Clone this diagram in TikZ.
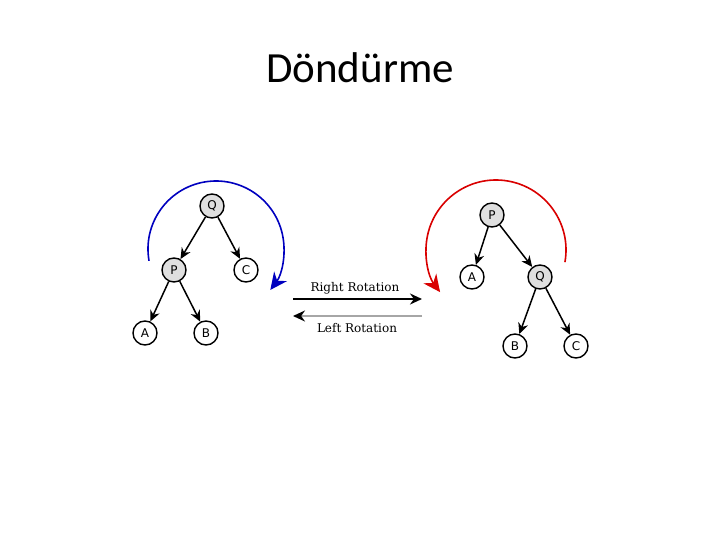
\documentclass[tikz,border=0pt]{standalone}
\usepackage{fontspec}
\setmainfont{Carlito}
\newfontfamily\nodefont{DejaVu Sans}
\newfontfamily\lblfont{DejaVu Serif}
\usetikzlibrary{arrows.meta,calc}
\begin{document}
\begin{tikzpicture}[x=1pt,y=-1pt,
  tnode/.style={circle,draw,line width=1.4pt,minimum size=24pt,inner sep=0pt,font=\nodefont\fontsize{12}{14}\selectfont},
  inner/.style={tnode,fill=gray!25},
  leaf/.style={tnode,fill=white},
  edge/.style={-{Stealth[length=11pt,width=10pt]},line width=1.5pt},
  rot/.style={line width=1.6pt,-{Stealth[length=17pt,width=16pt]}},
  lbl/.style={font=\lblfont\fontsize{12}{14}\selectfont}]
\useasboundingbox (0,0) rectangle (720,540);
\node[font=\fontsize{43}{50}\selectfont] (title) at (360,68) {Döndürme};
% left tree
\node[inner] (lQ) at (212,206) {Q};
\node[inner] (lP) at (174,270) {P};
\node[leaf] (lC) at (246,270) {C};
\node[leaf] (lA) at (145,333) {A};
\node[leaf] (lB) at (206,333) {B};
\draw[edge] (lQ) -- (lP);
\draw[edge] (lQ) -- (lC);
\draw[edge] (lP) -- (lA);
\draw[edge] (lP) -- (lB);
% right tree
\node[inner] (rP) at (492,215) {P};
\node[leaf] (rA) at (472,277) {A};
\node[inner] (rQ) at (540,277) {Q};
\node[leaf] (rB) at (515,346) {B};
\node[leaf] (rC) at (576,346) {C};
\draw[edge] (rP) -- (rA);
\draw[edge] (rP) -- (rQ);
\draw[edge] (rQ) -- (rB);
\draw[edge] (rQ) -- (rC);
% rotation arcs
\coordinate (bc) at (216,249);
\draw[rot,blue!75!black] ($(bc)+(-190:68)$) arc[start angle=-190,end angle=37,radius=68];
\coordinate (rc) at (496,250);
\draw[rot,red!85!black] ($(rc)+(10:70)$) arc[start angle=10,end angle=-217,radius=70];
% middle arrows
\coordinate (r1) at (293,299);
\coordinate (r2) at (422,299);
\coordinate (l1) at (422,316);
\coordinate (l2) at (293,316);
\draw[line width=1.6pt,-{Stealth[length=12pt,width=11pt]}] (r1) -- (r2);
\draw[line width=1.6pt,gray!70,-{Stealth[length=12pt,width=11pt,black]}] (l1) -- (l2);
\node[lbl] (rr) at (355,288) {Right Rotation};
\node[lbl] (lr) at (357,328) {Left Rotation};
\end{tikzpicture}
\end{document}
